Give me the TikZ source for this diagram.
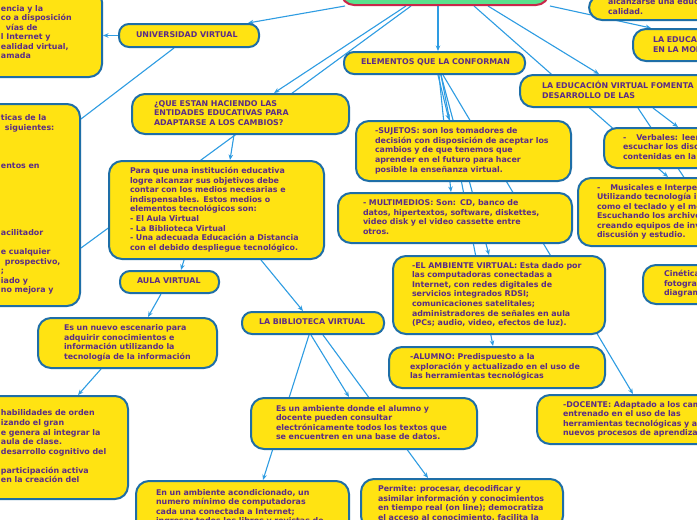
\documentclass[tikz,border=0pt]{standalone}
\usepackage{fontspec}
\newfontfamily\mapfont{DejaVu Sans}
\usetikzlibrary{arrows.meta}
\definecolor{mapyellow}{HTML}{FFE312}
\definecolor{mapblue}{HTML}{1E6EA7}
\definecolor{mapink}{HTML}{5B2C87}
\definecolor{maplink}{HTML}{2E9CE2}
\definecolor{hubgreen}{HTML}{5BE08D}
\definecolor{hubred}{HTML}{C9264A}
\pgfdeclarelayer{background}
\pgfsetlayers{background,main}
\newcommand{\boxtext}[1]{\begin{tabular}{@{}l@{}}#1\end{tabular}}

\begin{document}
\begin{tikzpicture}[x=1pt,y=-1pt,>={Stealth[length=5.5pt,width=4.5pt]},
  topic/.style={draw=mapblue, line width=2pt, fill=mapyellow, rounded corners=13pt, text=mapink,
    font=\mapfont\bfseries\fontsize{7.9pt}{9.55pt}\selectfont, align=left, anchor=north west, inner ysep=0pt},
  pill/.style={topic, rounded corners=10pt},
  hubbox/.style={draw=hubred, line width=2pt, fill=hubgreen, rounded corners=13pt, anchor=north west, inner sep=0pt},
  link/.style={draw=maplink, line width=1.1pt}]
\useasboundingbox (0,0) rectangle (697,520);
\clip (0,0) rectangle (697,520);

% central topic, only its lower edge is in view
\node[hubbox, minimum width=208pt, minimum height=44pt] (hub) at (340,-40) {};

% left branch
\node[topic, minimum width=121pt, minimum height=88pt, inner xsep=20pt, text width=81pt] (tl) at (-20,-12) {\boxtext{encia y la\\co a disposición\\\hspace{5pt}vías de\\l Internet y\\ealidad virtual,\\amada}};
\node[pill, minimum width=140pt, minimum height=23pt, inner xsep=17pt, text width=106pt] (univ) at (118,23) {\boxtext{UNIVERSIDAD VIRTUAL}};
\node[topic, minimum width=99pt, minimum height=202pt, inner xsep=20pt, text width=59pt] (carac) at (-20,103) {\boxtext{ticas de la\\\hspace{4pt}siguientes:\\ \\ \\ \\entos en\\ \\ \\ \\ \\ \\ \\acilitador\\ \\e cualquier\\\hspace{4pt}prospectivo,\\;\\iado y\\no mejora y\\ }};
\node[topic, minimum width=217pt, minimum height=40pt, inner xsep=22pt, text width=173pt] (que) at (131,93) {\boxtext{¿QUE ESTAN HACIENDO LAS\\ENTIDADES EDUCATIVAS PARA\\ADAPTARSE A LOS CAMBIOS?}};
\node[topic, minimum width=215pt, minimum height=98pt, inner xsep=21pt, text width=173pt] (para) at (108,160) {\boxtext{Para que una institución educativa\\logre alcanzar sus objetivos debe\\contar con los medios necesarias e\\indispensables. Estos medios o\\elementos tecnológicos son:\\- El Aula Virtual\\- La Biblioteca Virtual\\- Una adecuada Educación a Distancia\\con el debido despliegue tecnológico.}};
\node[pill, minimum width=99pt, minimum height=22pt, inner xsep=17pt, text width=65pt] (aula) at (119,270) {\boxtext{AULA VIRTUAL}};
\node[topic, minimum width=179pt, minimum height=50pt, inner xsep=26pt, text width=127pt] (escen) at (37,317) {\boxtext{Es un nuevo escenario para\\adquirir conocimientos e\\información utilizando la\\tecnología de la información}};
\node[topic, minimum width=147pt, minimum height=103pt, inner xsep=20pt, text width=107pt] (habil) at (-20,395) {\boxtext{habilidades de orden\\izando el gran\\e genera al integrar la\\aula de clase.\\desarrollo cognitivo del\\ \\participación activa\\en la creación del}};
\node[pill, minimum width=142pt, minimum height=22pt, inner xsep=17pt, text width=108pt] (biblio) at (241,311) {\boxtext{LA BIBLIOTECA VIRTUAL}};
\node[topic, minimum width=226pt, minimum height=51pt, inner xsep=25pt, text width=176pt] (amb) at (250,397) {\boxtext{Es un ambiente donde el alumno y\\docente pueden consultar\\electrónicamente todos los textos que\\se encuentren en una base de datos.}};
\node[topic, minimum width=213pt, minimum height=53pt, inner xsep=20pt, text width=173pt] (acond) at (135,480) {\boxtext{En un ambiente acondicionado, un\\numero mínimo de computadoras\\cada una conectada a Internet;\\ingresar todos los libros y revistas de}};
\node[topic, minimum width=202pt, minimum height=50pt, inner xsep=17pt, text width=168pt] (perm) at (360,478) {\boxtext{Permite: procesar, decodificar y\\asimilar información y conocimientos\\en tiempo real (on line); democratiza\\el acceso al conocimiento, facilita la}};

% middle branch
\node[pill, minimum width=181pt, minimum height=22pt, inner xsep=17pt, text width=147pt] (elem) at (343,51) {\boxtext{ELEMENTOS QUE LA CONFORMAN}};
\node[topic, minimum width=215pt, minimum height=60pt, inner xsep=19pt, text width=177pt] (suj) at (355,120) {\boxtext{-SUJETOS: son los tomadores de\\decisión con disposición de aceptar los\\cambios y de que tenemos que\\aprender en el futuro para hacer\\posible la enseñanza virtual.}};
\node[topic, minimum width=234pt, minimum height=50pt, inner xsep=25pt, text width=184pt] (multi) at (337,192) {\boxtext{- MULTIMEDIOS: Son: CD, banco de\\datos, hipertextos, software, diskettes,\\video disk y el video cassette entre\\otros.}};
\node[topic, minimum width=212pt, minimum height=78pt, inner xsep=19pt, text width=174pt] (ambv) at (392,255) {\boxtext{-EL AMBIENTE VIRTUAL: Esta dado por\\las computadoras conectadas a\\Internet, con redes digitales de\\servicios integrados RDSI;\\comunicaciones satelitales;\\administradores de señales en aula\\(PCs; audio, video, efectos de luz).}};
\node[topic, minimum width=216pt, minimum height=41pt, inner xsep=21pt, text width=174pt] (alum) at (388,346) {\boxtext{-ALUMNO: Predispuesto a la\\exploración y actualizado en el uso de\\las herramientas tecnológicas}};
\node[topic, minimum width=224pt, minimum height=49pt, inner xsep=26pt, text width=172pt] (doc) at (536,394) {\boxtext{-DOCENTE: Adaptado a los cambios,\\entrenado en el uso de las\\herramientas tecnológicas y a los\\nuevos procesos de aprendizaje.}};

% right branch
\node[topic, minimum width=172pt, minimum height=25pt, inner xsep=19pt, text width=134pt] (calid) at (588,-6) {\boxtext{alcanzarse una educación de\\calidad.}};
\node[topic, minimum width=128pt, minimum height=32pt, inner xsep=20pt, text width=88pt] (modal) at (632,28) {\boxtext{LA EDUCACIÓN\\EN LA MODALIDAD}};
\node[topic, minimum width=241pt, minimum height=32pt, inner xsep=22pt, text width=197pt] (foment) at (519,74) {\boxtext{LA EDUCACIÓN VIRTUAL FOMENTA\\DESARROLLO DE LAS}};
\node[topic, minimum width=157pt, minimum height=40pt, inner xsep=19pt, text width=119pt] (verb) at (603,127) {\boxtext{-\hspace{10pt}Verbales: leer\\escuchar los discursos\\contenidas en la}};
\node[topic, minimum width=183pt, minimum height=68pt, inner xsep=19pt, text width=145pt] (music) at (577,177) {\boxtext{-\hspace{10pt}Musicales e Interpersonales:\\Utilizando tecnología informática\\como el teclado y el mouse.\\Escuchando los archivos\\creando equipos de investigación,\\discusión y estudio.}};
\node[topic, minimum width=118pt, minimum height=39pt, inner xsep=21pt, text width=76pt] (cinet) at (642,264) {\boxtext{Cinéticas:\\fotografías,\\diagramas}};
\coordinate (offr) at (760,292);

\begin{pgfonlayer}{background}
\fill[white] (0,0) rectangle (697,520);
\draw[link,->] ([xshift=-39pt]hub.south) -- ([xshift=33.5pt]que.north);
\draw[link] ([xshift=-34pt]hub.south) -- ([yshift=-43pt]carac.east);
\draw[link,->] ([xshift=-100pt]hub.south) -- ([xshift=59pt]univ.north);
\draw[link,->] (univ.west) -- (univ.west -| tl.east);
\draw[link] ([xshift=-15pt]univ.south) -- ([yshift=86pt]carac.east);
\draw[link,->] ([xshift=-6.5pt]que.south) -- ([xshift=13.5pt]para.north);
\draw[link,->] ([xshift=-32.5pt]para.south) -- ([xshift=11.5pt]aula.north);
\draw[link,->] ([xshift=44.5pt]para.south) -- ([xshift=-10pt]biblio.north);
\draw[link,->] ([xshift=-8.5pt]aula.south) -- ([xshift=20.5pt]escen.north);
\draw[link,->] ([xshift=-26.5pt]escen.south) -- ([xshift=23.5pt]habil.north);
\draw[link,->] ([xshift=-2pt]biblio.south) -- ([xshift=-15pt]amb.north);
\draw[link,->] ([xshift=-4pt]biblio.south) -- ([xshift=20.5pt]acond.north);
\draw[link,->] ([xshift=10pt]biblio.south) -- ([xshift=-34pt]perm.north);
\draw[link,->] ([xshift=-7pt]hub.south) -- ([xshift=3.5pt]elem.north);
\draw[link,->] ([xshift=3.5pt]elem.south) -- ([xshift=-14.5pt]suj.north);
\draw[link,->] ([xshift=4.5pt]elem.south) -- ([xshift=-4pt]multi.north);
\draw[link,->] ([xshift=6.5pt]elem.south) -- ([xshift=-10pt]ambv.north);
\draw[link,->] ([xshift=6.5pt]elem.south) -- ([xshift=-4pt]alum.north);
\draw[link,->] ([xshift=8.5pt]elem.south) -- ([xshift=-16pt]doc.north);
\draw[link,->] ([xshift=43pt]hub.south) -- ([xshift=-41.5pt]foment.north);
\draw[link,->] ([xshift=29pt]hub.south) -- ([xshift=-1.5pt]music.north);
\draw[link,->] (hub.south east) -- ([xshift=-46pt]modal.north);
\draw[link,->] ([xshift=12.5pt]foment.south) -- ([xshift=-4.5pt]verb.north);
\draw[link] ([xshift=-2.5pt]foment.south) -- (offr);
\end{pgfonlayer}
\end{tikzpicture}
\end{document}
